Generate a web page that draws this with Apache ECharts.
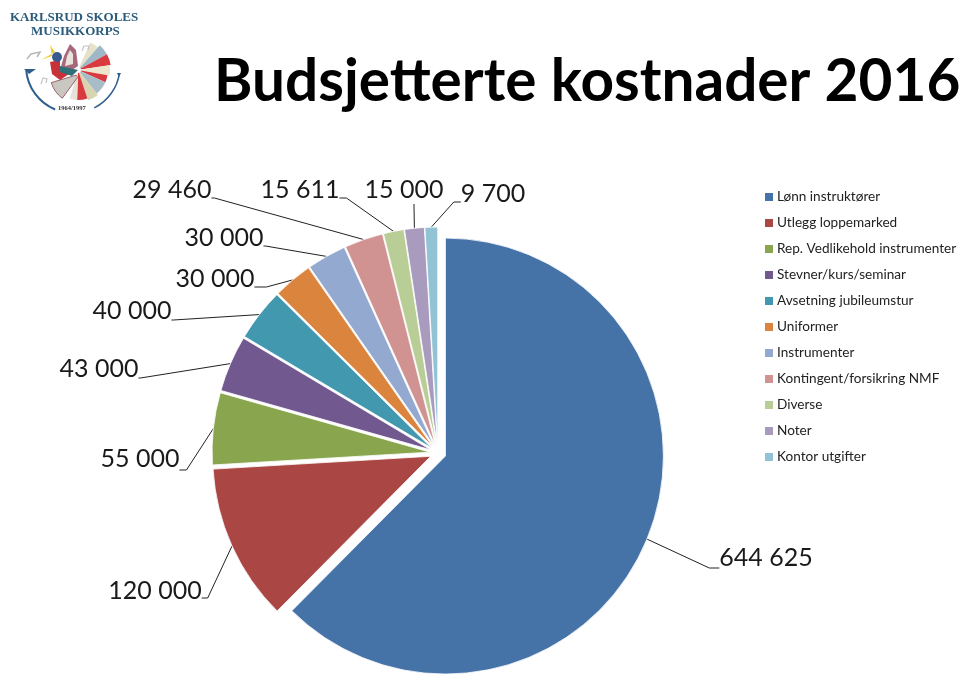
<!DOCTYPE html>
<html><head><meta charset="utf-8">
<style>html,body{margin:0;padding:0;background:#fff}#c{width:959px;height:677px}</style>
<script src="https://cdn.jsdelivr.net/npm/echarts@6/dist/echarts.min.js"></script>
</head><body><div id="c"></div>
<script>
const categories = ['Lønn instruktører','Utlegg loppemarked','Rep. Vedlikehold instrumenter','Stevner/kurs/seminar','Avsetning jubileumstur','Uniformer','Instrumenter','Kontingent/forsikring NMF','Diverse','Noter','Kontor utgifter'];
const values = [644625,120000,55000,43000,40000,30000,30000,29460,15611,15000,9700];
const colors = ['#4572A7','#AA4643','#89A54E','#71588F','#4198AF','#DB843D','#93A9CF','#D19392','#B9CD96','#A99BBD','#92C3D5'];
// label placement: text centre x, text centre y, leader-attach drop below centre, leader-attach shift right of centre, last-segment length
const labelPos = [[766,558,10,0,10],[155,591,7,0,6],[140,459,11,0,7],[99,369,9,0,2],[132,311,9,0,2],[215,279,8,0,12],[224,238,8,0,2],[172,190,8,0,3],[300,190,8,0,7],[404,190,0,10,2],[493,194,8,0,7]];
const LH = 28;
const fmt = v => String(v).replace(/\B(?=(\d{3})+$)/g,' ');
const FONT = 'Lato, "Open Sans", sans-serif';
const LOGO = '"Liberation Serif"';
const CENTER = [438,453];

const chart = echarts.init(document.getElementById('c'),null,{renderer:'canvas'});
chart.setOption({
  animation:false,
  backgroundColor:'#fff',
  title:{text:'Budsjetterte kostnader 2016', left:214, top:53, padding:0, textStyle:{fontFamily:FONT,fontWeight:'bold',fontSize:58.5,color:'#000'}},
  legend:{
    orient:'vertical', left:760, top:185, itemWidth:8, itemHeight:8, itemGap:12, icon:'rect', selectedMode:false,
    textStyle:{fontFamily:FONT,fontSize:13.6,color:'#222',padding:[0,0,0,-1]},
    data:categories.map((name,i)=>({name,itemStyle:{color:colors[i],borderWidth:0}}))
  },
  series:[{
    // exploded slices
    type:'pie', startAngle:90, clockwise:true, center:CENTER, radius:218,
    selectedMode:'multiple', selectedOffset:8, silent:true,
    label:{show:false}, labelLine:{show:false},
    data:categories.map((name,i)=>({
      name, value:values[i], selected:true,
      itemStyle:{color:colors[i],borderColor:'#fff',borderWidth:0.8}
    }))
  },{
    // value labels and leader lines (no visible slices of its own)
    type:'pie', startAngle:90, clockwise:true, center:CENTER, radius:226, avoidLabelOverlap:false, silent:true,
    data:categories.map((name,i)=>{
      const p = labelPos[i];
      return {
        name, value:values[i],
        itemStyle:{color:'rgba(0,0,0,0)',borderWidth:0},
        label:{position:'outside', formatter:()=>fmt(values[i]), fontFamily:FONT, fontSize:25, lineHeight:LH, color:'#1a1a1a',
               padding:[0, 2*p[3], 2*p[2], 0]},
        labelLine:{show:true, length:14, length2:p[4], smooth:false, lineStyle:{color:'#222',width:1}}
      };
    }),
    labelLayout: o => {
      const p = labelPos[o.dataIndex];
      return {x:p[0]+p[3], y:p[1]-LH/2, align:'center', verticalAlign:'top'};
    }
  }],
  graphic:[
    {type:'text',left:10,top:11,style:{text:'KARLSRUD SKOLES',font:'bold 13px '+LOGO,fill:'#2b5a7a'}},
    {type:'text',left:31,top:25,style:{text:'MUSIKKORPS',font:'bold 13px '+LOGO,fill:'#2b5a7a'}},
    {type:'arc',shape:{cx:73,cy:66,r:47,startAngle:0.15,endAngle:1.1,clockwise:true},style:{stroke:'#2f5f8f',fill:'none',lineWidth:1.5}},
    {type:'arc',shape:{cx:73,cy:66,r:47,startAngle:1.96,endAngle:3.05,clockwise:true},style:{stroke:'#2f5f8f',fill:'none',lineWidth:2}},
    {type:'polygon',shape:{points:[[24,69],[36,69],[29,74]]},style:{fill:'#2f5f8f'}},
    {type:'polygon',shape:{points:[[117,73],[121,73],[119,77]]},style:{fill:'#2f5f8f'}},
    {type:'sector',shape:{cx:78,cy:70,r:30,r0:3,startAngle:-1.15,endAngle:-0.85},style:{fill:'#e6e2c8'}},
    {type:'sector',shape:{cx:78,cy:70,r:33,r0:3,startAngle:-0.85,endAngle:-0.5},style:{fill:'#9fb8c8'}},
    {type:'sector',shape:{cx:78,cy:70,r:33,r0:3,startAngle:-0.5,endAngle:-0.15},style:{fill:'#d93a40'}},
    {type:'sector',shape:{cx:78,cy:70,r:32,r0:3,startAngle:-0.15,endAngle:0.18},style:{fill:'#ece6cc'}},
    {type:'sector',shape:{cx:78,cy:70,r:30,r0:3,startAngle:0.18,endAngle:0.42},style:{fill:'#d93a40'}},
    {type:'sector',shape:{cx:78,cy:70,r:30,r0:3,startAngle:0.42,endAngle:0.9},style:{fill:'#a8bcc8'}},
    {type:'sector',shape:{cx:78,cy:70,r:32,r0:3,startAngle:0.9,endAngle:1.25},style:{fill:'#d8d4b0'}},
    {type:'sector',shape:{cx:78,cy:70,r:30,r0:3,startAngle:1.25,endAngle:1.6},style:{fill:'#d93a40'}},
    {type:'sector',shape:{cx:78,cy:70,r:30,r0:3,startAngle:1.6,endAngle:1.85},style:{fill:'#e6e2d8'}},
    {type:'sector',shape:{cx:80,cy:74,r:30,r0:4,startAngle:2.2,endAngle:2.85},style:{fill:'#c8c8c0',stroke:'#8f3f50',lineWidth:0.8}},
    {type:'polygon',shape:{points:[[70,44],[76,50],[78,66],[72,70],[60,70],[64,56]]},style:{fill:'#a8687c'}},
    {type:'polygon',shape:{points:[[70,50],[73,54],[73,64],[65,66],[67,56]]},style:{fill:'#e8e4dc'}},
    {type:'polygon',shape:{points:[[50,62],[60,60],[60,68],[72,72],[60,80],[52,74]]},style:{fill:'#c8313a'}},
    {type:'polygon',shape:{points:[[60,66],[78,70],[72,76],[60,72]]},style:{fill:'#2f6f78'}},
    {type:'circle',shape:{cx:57,cy:57,r:5},style:{fill:'#3a5a90'}},
    {type:'polygon',shape:{points:[[41,60],[52,56],[50,45],[55,52]]},style:{fill:'#f0cc30'}},
    {type:'polyline',shape:{points:[[27,59],[31,54],[40,52],[37,57]]},style:{stroke:'#b8b8b8',fill:'none',lineWidth:1.5}},
    {type:'polyline',shape:{points:[[82,51],[84,46],[89,46],[88,50]]},style:{stroke:'#c4c4c4',fill:'none',lineWidth:1.2}},
    {type:'polyline',shape:{points:[[41,84],[43,78],[47,79],[46,83]]},style:{stroke:'#c4c4c4',fill:'none',lineWidth:1.2}},
    {type:'text',left:58,top:105,style:{text:'1964/1997',font:'bold 6.5px '+LOGO,fill:'#333'}}
  ]
});
</script></body></html>
